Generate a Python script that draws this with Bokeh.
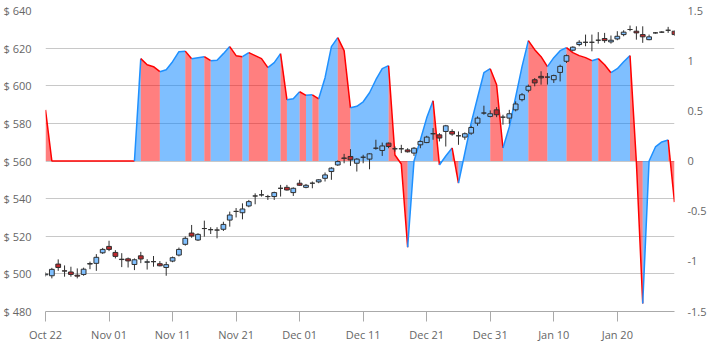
import pandas as pd
from bokeh.plotting import figure
from bokeh.models import (Range1d, LinearAxis, FixedTicker, DatetimeTickFormatter,
                          PrintfTickFormatter, CustomJSTickFormatter, ColumnDataSource)
from bokeh.embed import file_html
from bokeh.resources import INLINE

# ---------------- data ----------------
start_date = "2018-10-22"
end_date = "2019-01-29"
tick_label_dates = ["2018-10-22", "2018-11-01", "2018-11-11", "2018-11-21", "2018-12-01",
                    "2018-12-11", "2018-12-21", "2018-12-31", "2019-01-10", "2019-01-20"]

opens = [499.5, 499.0, 505.2, 501.6, 501.0, 499.3, 499.7, 505.2, 505.6, 511.2,
         514.6, 511.4, 507.8, 508.0, 505.0, 509.6, 506.2, 506.5, 505.4, 503.4,
         506.8, 510.0, 515.7, 521.7, 518.0, 524.1, 523.5, 523.3, 523.7, 528.6,
         533.2, 532.5, 536.1, 541.4, 542.0, 541.1, 541.1, 545.5, 546.0, 543.2,
         548.2, 546.0, 548.2, 548.9, 550.8, 554.4, 557.9, 561.6, 562.4, 558.8,
         562.0, 561.0, 566.8, 565.6, 569.5, 566.5, 566.5, 565.9, 564.2, 568.6,
         569.8, 574.5, 573.9, 575.7, 575.7, 573.4, 572.7, 574.8, 580.1, 585.5,
         583.7, 587.2, 583.3, 582.8, 587.2, 592.6, 597.6, 603.2, 605.0, 604.6,
         603.2, 607.1, 613.0, 618.9, 621.9, 623.1, 623.1, 624.2, 625.1, 623.3,
         624.9, 627.2, 629.9, 629.0, 627.2, 624.5, 628.1, 628.5, 629.5, 629.0]
highs = [500.8, 503.2, 507.7, 504.5, 503.8, 502.9, 503.3, 506.5, 510.5, 513.8,
         517.6, 512.6, 511.0, 508.7, 508.2, 511.7, 507.8, 509.5, 506.8, 506.4,
         509.2, 514.0, 519.9, 526.0, 521.6, 528.3, 524.8, 524.8, 527.7, 533.1,
         535.0, 537.5, 539.3, 542.8, 544.6, 542.0, 543.7, 547.3, 547.3, 546.0,
         550.0, 547.8, 549.1, 550.3, 553.9, 556.7, 560.3, 563.8, 566.3, 561.5,
         563.3, 564.2, 571.3, 569.8, 569.8, 567.7, 568.6, 566.8, 567.4, 570.9,
         573.4, 577.5, 574.8, 579.2, 576.9, 575.7, 575.2, 578.7, 583.7, 589.4,
         586.9, 588.6, 584.6, 587.2, 591.7, 596.1, 600.6, 604.1, 607.7, 606.8,
         605.9, 611.2, 616.6, 621.0, 624.2, 627.2, 627.2, 628.5, 628.1, 626.7,
         629.0, 629.5, 632.0, 631.6, 631.6, 627.2, 628.5, 629.0, 631.3, 629.5]
lows = [498.6, 497.6, 501.6, 498.5, 498.5, 497.6, 499.0, 502.5, 501.6, 510.6,
        512.1, 508.2, 503.6, 503.4, 502.0, 505.7, 502.3, 503.8, 504.0, 499.0,
        506.2, 509.3, 515.0, 519.2, 517.5, 519.8, 521.2, 518.9, 522.8, 525.1,
        530.0, 529.0, 535.4, 537.0, 541.1, 539.3, 539.3, 541.1, 544.3, 541.4,
        546.8, 545.5, 545.5, 548.2, 549.1, 550.0, 557.4, 558.8, 557.4, 554.4,
        558.8, 555.6, 566.0, 562.7, 566.8, 565.0, 564.2, 564.5, 562.7, 566.8,
        569.5, 571.3, 570.4, 567.7, 573.4, 568.6, 571.3, 573.9, 578.7, 584.6,
        583.2, 583.3, 579.3, 579.8, 586.4, 591.7, 596.5, 599.7, 600.6, 600.6,
        601.5, 602.3, 612.1, 618.3, 621.0, 621.0, 618.3, 622.4, 622.8, 622.4,
        624.2, 626.3, 629.0, 624.5, 622.8, 624.2, 627.7, 628.1, 628.1, 626.5]
closes = [499.9, 502.4, 503.4, 501.5, 499.7, 498.8, 502.5, 505.5, 508.8, 513.0,
          513.0, 509.3, 507.6, 506.9, 507.5, 507.9, 506.4, 506.5, 504.3, 504.9,
          508.6, 513.0, 518.9, 520.1, 521.0, 524.1, 523.5, 523.3, 526.3, 531.3,
          533.2, 534.5, 538.4, 541.4, 542.0, 541.1, 543.2, 545.5, 544.6, 545.5,
          547.1, 547.1, 548.2, 550.0, 552.6, 556.2, 559.7, 561.4, 560.6, 561.0,
          562.0, 563.8, 566.8, 568.0, 567.7, 566.5, 566.5, 564.9, 566.8, 570.4,
          572.7, 574.5, 572.2, 578.7, 574.3, 573.4, 574.5, 577.8, 582.8, 585.5,
          585.1, 584.6, 583.3, 585.1, 590.3, 595.2, 599.7, 601.5, 604.2, 604.6,
          605.4, 610.3, 616.0, 620.5, 623.1, 623.1, 623.1, 624.2, 624.0, 624.2,
          626.3, 628.5, 629.9, 628.1, 626.0, 626.0, 628.1, 628.5, 629.5, 627.2]
indicator = [0.51, 0.0, 0.0, 0.0, 0.0, 0.0, 0.0, 0.0, 0.0, 0.0,
             0.0, 0.0, 0.0, 0.0, 0.0, 1.02, 0.96, 0.94, 0.89, 0.91,
             0.99, 1.09, 1.095, 1.02, 1.03, 1.04, 1.00, 1.005, 1.07, 1.14,
             1.05, 1.04, 1.08, 1.05, 1.02, 0.93, 0.98, 1.07, 0.61, 0.62,
             0.69, 0.655, 0.66, 0.62, 0.83, 1.14, 1.23, 1.10, 0.53, 0.545,
             0.59, 0.68, 0.81, 0.92, 0.95, 0.06, -0.03, -0.86, 0.0, 0.21,
             0.43, 0.60, -0.04, 0.05, 0.13, -0.22, 0.08, 0.38, 0.63, 0.88,
             0.92, 0.76, 0.13, 0.34, 0.64, 0.94, 1.20, 1.11, 1.04, 0.94,
             1.03, 1.10, 1.13, 1.08, 1.05, 1.03, 1.00, 1.02, 0.96, 0.88,
             0.92, 0.99, 1.05, -0.01, -1.42, 0.0, 0.14, 0.19, 0.21, -0.41]
price_ticks = [480, 500, 520, 540, 560, 580, 600, 620, 640]
indicator_ticks = [-1.5, -1, -0.5, 0, 0.5, 1, 1.5]

# ---------------- styling ----------------
FONT = "Open Sans"
FONT_SIZE = "11px"
LABEL_COLOR = "#666666"
UP_FILL = "#80c0ff"
DOWN_FILL = "#c0282d"
CANDLE_LINE = "#303030"
AREA_UP = "#0080ff"
AREA_DOWN = "#ff0000"
LINE_UP = "#1e90ff"
LINE_DOWN = "#ff0000"

dates = pd.date_range(start_date, end_date, freq="D")
x_ms = [d.timestamp() * 1000.0 for d in dates]
day_ms = 24 * 3600 * 1000.0
tick_ms = [pd.Timestamp(t).timestamp() * 1000.0 for t in tick_label_dates]

p = figure(width=712, height=352, output_backend="svg", toolbar_location=None,
           x_axis_type="datetime",
           x_range=Range1d(x_ms[0], x_ms[-1]), y_range=Range1d(price_ticks[0], price_ticks[-1]),
           min_border_left=44, min_border_right=38, min_border_top=10, min_border_bottom=41)
p.outline_line_color = None
p.background_fill_color = "white"
p.border_fill_color = "white"
p.extra_y_ranges = {"ind": Range1d(indicator_ticks[0], indicator_ticks[-1])}

# axes
xa = p.xaxis[0]
xa.ticker = FixedTicker(ticks=tick_ms)
fmt = "%b %d"
xa.formatter = DatetimeTickFormatter(days=fmt, months=fmt, hours=fmt, years=fmt,
                                     microseconds=fmt, milliseconds=fmt, seconds=fmt,
                                     minsec=fmt, minutes=fmt, hourmin=fmt)
xa.axis_line_color = "#aaaaaa"
xa.major_tick_line_color = "#aaaaaa"
xa.major_tick_out = 10
xa.major_tick_in = 0
xa.minor_tick_line_color = None
xa.major_label_standoff = 5

ya = p.yaxis[0]
ya.ticker = FixedTicker(ticks=price_ticks)
ya.formatter = PrintfTickFormatter(format="$ %d")
ya.axis_line_color = None
ya.major_tick_line_color = None
ya.minor_tick_line_color = None
ya.major_label_standoff = 8

ra = LinearAxis(y_range_name="ind", ticker=FixedTicker(ticks=indicator_ticks),
                formatter=CustomJSTickFormatter(code="return tick.toString();"))
ra.axis_line_color = None
ra.major_tick_line_color = None
ra.minor_tick_line_color = None
ra.major_label_standoff = 7
ra.major_label_text_align = "right"
p.add_layout(ra, "right")

for ax in (xa, ya, ra):
    ax.major_label_text_font = FONT
    ax.major_label_text_font_size = FONT_SIZE
    ax.major_label_text_color = LABEL_COLOR

p.xgrid.grid_line_color = None
p.ygrid.ticker = FixedTicker(ticks=price_ticks)
p.ygrid.grid_line_color = "#c8c8c8"

# indicator area: runs of rising (blue) / falling (red) segments
runs = []
for i in range(len(indicator) - 1):
    up = indicator[i + 1] > indicator[i]
    if runs and runs[-1][0] == up:
        runs[-1][2] = i + 1
    else:
        runs.append([up, i, i + 1])

pxs, pys, pfill, lxs, lys, lcol = [], [], [], [], [], []
for up, a, b in runs:
    xx = x_ms[a:b + 1]
    vv = indicator[a:b + 1]
    pxs.append([xx[0]] + xx + [xx[-1]])
    pys.append([0] + vv + [0])
    pfill.append(AREA_UP if up else AREA_DOWN)
    lxs.append(xx)
    lys.append(vv)
    lcol.append(LINE_UP if up else LINE_DOWN)

p.patches(pxs, pys, fill_color=pfill, fill_alpha=0.5, line_color=None, y_range_name="ind")
p.multi_line(lxs, lys, line_color=lcol, line_width=1.5, y_range_name="ind")

# candles
tops = [max(o, c) for o, c in zip(opens, closes)]
bots = [min(o, c) for o, c in zip(opens, closes)]
bcol = [UP_FILL if c >= o else DOWN_FILL for o, c in zip(opens, closes)]
src = ColumnDataSource(dict(x=x_ms, high=highs, low=lows, top=tops, bottom=bots, fill=bcol))
p.segment(x0="x", y0="high", x1="x", y1="low", source=src, line_color=CANDLE_LINE, line_width=1)
p.vbar(x="x", width=0.75 * day_ms, top="top", bottom="bottom", source=src,
       fill_color="fill", line_color=CANDLE_LINE, line_width=1)

open("out.html", "w").write(file_html(p, INLINE))
